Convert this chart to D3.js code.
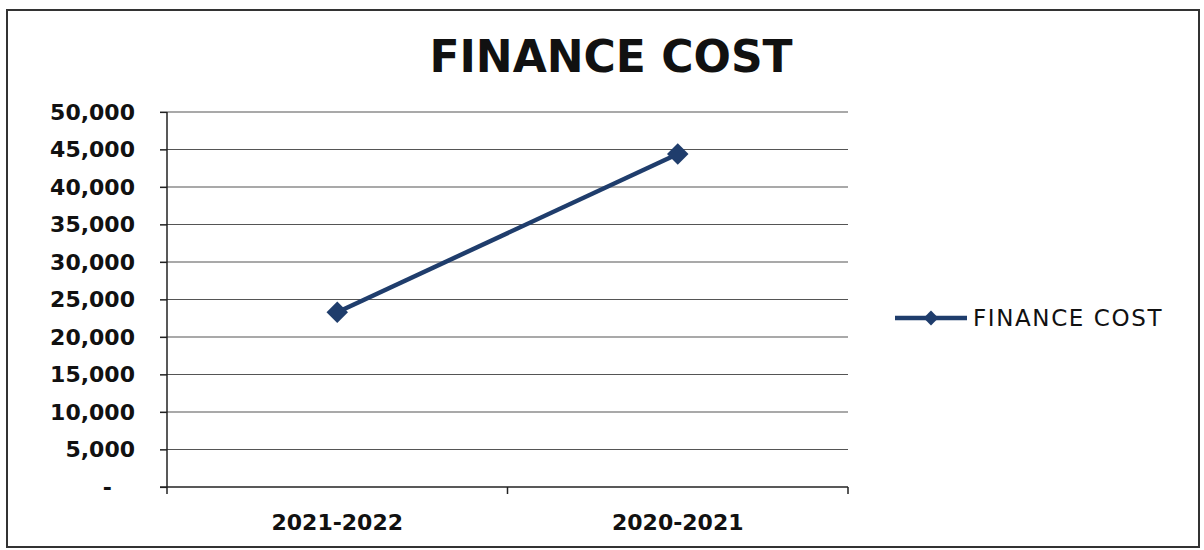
<!DOCTYPE html>
<html>
<head>
<meta charset="utf-8">
<script src="https://cdn.jsdelivr.net/npm/d3@7"></script>
<style>
  html, body { margin: 0; padding: 0; background: #fff; }
  svg { display: block; }
</style>
</head>
<body>
<svg id="chart" width="1204" height="550"></svg>
<script>
// Finance cost by financial year
const chartTitle = "FINANCE COST";
const seriesName = "FINANCE COST";
const categories = ["2021-2022", "2020-2021"];
const financeCost = [23300, 44400];
const yTicks = [0, 5000, 10000, 15000, 20000, 25000, 30000, 35000, 40000, 45000, 50000];

const W = 1204, H = 550;
const margin = { left: 167, right: 356, top: 112, bottom: 63 };
const lineColor = "#1f3d6c";
const gridColor = "#555";

const svg = d3.select("#chart");

// Chart frame
svg.append("rect")
  .attr("x", 7).attr("y", 10)
  .attr("width", 1192).attr("height", 537)
  .attr("fill", "#fff")
  .attr("stroke", "#333")
  .attr("stroke-width", 2);

// Title
svg.append("text")
  .attr("x", 611).attr("y", 72)
  .attr("text-anchor", "middle")
  .attr("font-family", "DejaVu Sans")
  .attr("font-weight", "bold")
  .attr("font-size", 44)
  .attr("fill", "#111")
  .text(chartTitle);

const x = d3.scaleBand()
  .domain(categories)
  .range([margin.left, W - margin.right]);

const y = d3.scaleLinear()
  .domain([0, 50000])
  .range([H - margin.bottom, margin.top]);

// Horizontal gridlines
svg.append("g")
  .selectAll("line")
  .data(yTicks.filter(d => d > 0))
  .join("line")
  .attr("x1", margin.left - 7)
  .attr("x2", W - margin.right)
  .attr("y1", d => y(d))
  .attr("y2", d => y(d))
  .attr("stroke", gridColor)
  .attr("stroke-width", 1.2);

// Y axis with accounting-style zero
const yAxis = d3.axisLeft(y)
  .tickValues(yTicks)
  .tickSize(7)
  .tickPadding(25)
  .tickFormat(d => d === 0 ? "-" : d3.format(",")(d));

const gy = svg.append("g")
  .attr("transform", `translate(${margin.left},0)`)
  .call(yAxis);
gy.select(".domain")
  .attr("stroke", "#222")
  .attr("stroke-width", 1.5)
  .attr("d", `M0,${y(50000)}V${y(0) + 7}`);
gy.selectAll(".tick line").attr("stroke", "#222").attr("stroke-width", 1.2);
gy.selectAll(".tick text")
  .attr("font-family", "DejaVu Sans")
  .attr("font-weight", "bold")
  .attr("font-size", 22)
  .attr("fill", "#111")
  .attr("dx", d => d === 0 ? -23 : 0);

// X axis with ticks at category boundaries
const boundaries = [x.range()[0], ...categories.map(c => x(c) + x.bandwidth())];
const gx = svg.append("g");
gx.append("line")
  .attr("x1", margin.left - 7)
  .attr("x2", W - margin.right)
  .attr("y1", y(0)).attr("y2", y(0))
  .attr("stroke", "#222").attr("stroke-width", 1.5);
gx.selectAll("line.tk")
  .data(boundaries.slice(1))
  .join("line")
  .attr("class", "tk")
  .attr("x1", d => d).attr("x2", d => d)
  .attr("y1", y(0)).attr("y2", y(0) + 7)
  .attr("stroke", "#222").attr("stroke-width", 1.5);
gx.selectAll("text")
  .data(categories)
  .join("text")
  .attr("x", d => x(d) + x.bandwidth() / 2)
  .attr("y", y(0) + 43)
  .attr("text-anchor", "middle")
  .attr("font-family", "DejaVu Sans")
  .attr("font-weight", "bold")
  .attr("font-size", 22)
  .attr("fill", "#111")
  .text(d => d);

// Series line
const pts = categories.map((c, i) => ({ c, v: financeCost[i] }));
const line = d3.line()
  .x(d => x(d.c) + x.bandwidth() / 2)
  .y(d => y(d.v));

svg.append("path")
  .datum(pts)
  .attr("d", line)
  .attr("fill", "none")
  .attr("stroke", lineColor)
  .attr("stroke-width", 4.5);

const diamond = d3.symbol().type(d3.symbolSquare);
svg.append("g")
  .selectAll("path")
  .data(pts)
  .join("path")
  .attr("d", diamond.size(230)())
  .attr("transform", d => `translate(${x(d.c) + x.bandwidth() / 2},${y(d.v)}) rotate(45)`)
  .attr("fill", lineColor);

// Legend
const lg = svg.append("g").attr("transform", "translate(895,318)");
lg.append("line")
  .attr("x1", 0).attr("x2", 72)
  .attr("stroke", lineColor).attr("stroke-width", 4.5);
lg.append("path")
  .attr("d", diamond.size(110)())
  .attr("transform", "translate(36,0) rotate(45)")
  .attr("fill", lineColor);
lg.append("text")
  .attr("x", 78).attr("y", 0)
  .attr("dy", "0.36em")
  .attr("font-family", "DejaVu Sans")
  .attr("font-size", 23)
  .attr("letter-spacing", 1.6)
  .attr("fill", "#111")
  .text(seriesName);
</script>
</body>
</html>
